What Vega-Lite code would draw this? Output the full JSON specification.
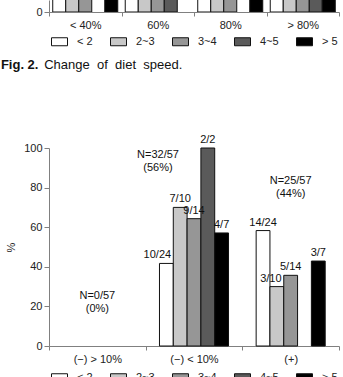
{
  "$schema": "https://vega.github.io/schema/vega-lite/v6.json",
  "padding": {"left": 0, "right": 3, "top": 0, "bottom": 0},
  "config": {
    "font": "Liberation Sans",
    "view": {"stroke": null},
    "axis": {"domainColor": "#808080", "tickColor": "#808080", "labelColor": "#222222", "labelFontSize": 11, "titleFontSize": 11, "titleFontWeight": "normal", "titleColor": "#222222", "grid": false, "labelOverlap": false},
    "legend": {"orient": "none", "direction": "horizontal", "columns": 5, "symbolType": "M-1,-0.5H1V0.5H-1Z", "symbolSize": 256, "symbolStrokeColor": "#111111", "symbolStrokeWidth": 1, "symbolOpacity": 1, "labelFontSize": 11, "labelColor": "#222222", "labelOffset": 9, "columnPadding": 15, "padding": 0}
  },
  "datasets": {
    "diet": [
      {"speed": "< 40%", "group": "< 2", "pct": 30},
      {"speed": "< 40%", "group": "2~3", "pct": 45},
      {"speed": "< 40%", "group": "3~4", "pct": 60},
      {"speed": "< 40%", "group": "> 5", "pct": 50},
      {"speed": "60%", "group": "< 2", "pct": 35},
      {"speed": "60%", "group": "2~3", "pct": 50},
      {"speed": "60%", "group": "3~4", "pct": 55},
      {"speed": "60%", "group": "4~5", "pct": 70},
      {"speed": "80%", "group": "< 2", "pct": 25},
      {"speed": "80%", "group": "2~3", "pct": 40},
      {"speed": "80%", "group": "3~4", "pct": 45},
      {"speed": "80%", "group": "> 5", "pct": 80},
      {"speed": "> 80%", "group": "< 2", "pct": 30},
      {"speed": "> 80%", "group": "2~3", "pct": 40},
      {"speed": "> 80%", "group": "3~4", "pct": 50},
      {"speed": "> 80%", "group": "4~5", "pct": 60},
      {"speed": "> 80%", "group": "> 5", "pct": 70}
    ],
    "bars": [
      {"cat": "(−) < 10%", "group": "< 2", "pct": 41.7, "label": "10/24"},
      {"cat": "(−) < 10%", "group": "2~3", "pct": 70, "label": "7/10"},
      {"cat": "(−) < 10%", "group": "3~4", "pct": 64.3, "label": "9/14"},
      {"cat": "(−) < 10%", "group": "4~5", "pct": 100, "label": "2/2"},
      {"cat": "(−) < 10%", "group": "> 5", "pct": 57.1, "label": "4/7"},
      {"cat": "(+)", "group": "< 2", "pct": 58.3, "label": "14/24"},
      {"cat": "(+)", "group": "2~3", "pct": 30, "label": "3/10"},
      {"cat": "(+)", "group": "3~4", "pct": 35.7, "label": "5/14"},
      {"cat": "(+)", "group": "> 5", "pct": 42.9, "label": "3/7"}
    ],
    "notes": [
      {"cat": "(−) > 10%", "pos": 28.3, "note": "N=0/57\n(0%)"},
      {"cat": "(−) < 10%", "pos": 99.5, "note": "N=32/57\n(56%)"},
      {"cat": "(+)", "pos": 86.4, "note": "N=25/57\n(44%)"}
    ]
  },
  "resolve": {"scale": {"color": "independent", "fill": "independent", "x": "independent", "y": "independent", "xOffset": "independent"}, "legend": {"fill": "independent"}},
  "spacing": 62,
  "vconcat": [
    {
      "width": 290,
      "height": 12,
      "title": {"text": "Fig. 2.", "subtitle": "\u200b\u00a0\u00a0\u00a0\u00a0\u00a0\u00a0\u00a0\u00a0\u00a0\u00a0\u00a0\u00a0Change\u00a0\u00a0of\u00a0\u00a0diet\u00a0\u00a0speed.", "orient": "bottom", "anchor": "start", "fontSize": 13, "fontWeight": "bold", "subtitleFontSize": 13, "subtitleFontWeight": "normal", "subtitlePadding": -13, "color": "#111111", "subtitleColor": "#111111", "offset": 11, "dx": -35},
      "data": {"name": "diet"},
      "mark": {"type": "bar", "stroke": "#111111", "strokeWidth": 1, "clip": true},
      "encoding": {
        "x": {"field": "speed", "type": "nominal", "sort": ["< 40%", "60%", "80%", "> 80%"], "scale": {"paddingInner": 0, "paddingOuter": 0}, "axis": {"title": null, "labelAngle": 0, "tickBand": "extent", "tickSize": 4, "labelPadding": 3}},
        "xOffset": {"field": "group", "type": "nominal", "scale": {"domain": ["< 2", "2~3", "3~4", "4~5", "> 5"], "paddingInner": 0, "paddingOuter": 0.288}},
        "y": {"field": "pct", "type": "quantitative", "scale": {"domain": [0, 10]}, "axis": {"title": null, "values": [0], "tickSize": 5, "labelPadding": 2}},
        "fill": {"field": "group", "type": "nominal", "scale": {"domain": ["< 2", "2~3", "3~4", "4~5", "> 5"], "range": ["#ffffff", "#c8c8c8", "#969696", "#5a5a5a", "#000000"]}, "legend": {"title": null, "legendX": 2, "legendY": 33}}
      }
    },
    {
      "width": 290,
      "height": 198,
      "layer": [
        {
          "data": {"name": "bars"},
          "mark": {"type": "bar", "stroke": "#111111", "strokeWidth": 1},
          "encoding": {
            "x": {"field": "cat", "type": "nominal", "scale": {"domain": ["(−) > 10%", "(−) < 10%", "(+)"], "paddingInner": 0, "paddingOuter": 0}, "axis": {"title": null, "labelAngle": 0, "tickBand": "extent", "tickSize": 4, "labelPadding": 3}},
            "xOffset": {"field": "group", "type": "nominal", "scale": {"domain": ["< 2", "2~3", "3~4", "4~5", "> 5"], "paddingInner": 0, "paddingOuter": 1.218}},
            "y": {"field": "pct", "type": "quantitative", "scale": {"domain": [0, 100]}, "axis": {"title": "%", "values": [0, 20, 40, 60, 80, 100], "tickCount": 12, "labelOverlap": false, "tickSize": 5, "labelPadding": 2, "titlePadding": 7}},
            "fill": {"field": "group", "type": "nominal", "scale": {"domain": ["< 2", "2~3", "3~4", "4~5", "> 5"], "range": ["#ffffff", "#c8c8c8", "#969696", "#5a5a5a", "#000000"]}, "legend": {"title": null, "legendX": 2, "legendY": 221}}
          }
        },
        {
          "data": {"name": "bars"},
          "transform": [{"filter": "datum.label != '10/24' && datum.label != '3/10'"}],
          "mark": {"type": "text", "fontSize": 11, "baseline": "alphabetic", "dy": -5, "color": "#111111"},
          "encoding": {
            "x": {"field": "cat", "type": "nominal"},
            "xOffset": {"field": "group", "type": "nominal"},
            "y": {"field": "pct", "type": "quantitative"},
            "text": {"field": "label"}
          }
        },
        {
          "data": {"name": "bars"},
          "transform": [{"filter": "datum.label == '10/24'"}],
          "mark": {"type": "text", "fontSize": 11, "baseline": "alphabetic", "dy": -5, "dx": -9, "color": "#111111"},
          "encoding": {
            "x": {"field": "cat", "type": "nominal"},
            "xOffset": {"field": "group", "type": "nominal"},
            "y": {"field": "pct", "type": "quantitative"},
            "text": {"field": "label"}
          }
        },
        {
          "data": {"name": "bars"},
          "transform": [{"filter": "datum.label == '3/10'"}],
          "mark": {"type": "text", "fontSize": 11, "baseline": "alphabetic", "dy": -5, "dx": -6, "color": "#111111"},
          "encoding": {
            "x": {"field": "cat", "type": "nominal"},
            "xOffset": {"field": "group", "type": "nominal"},
            "y": {"field": "pct", "type": "quantitative"},
            "text": {"field": "label"}
          }
        },
        {
          "data": {"name": "notes"},
          "transform": [{"filter": "datum.cat != '(−) < 10%'"}],
          "mark": {"type": "text", "fontSize": 11, "baseline": "top", "lineBreak": "\n", "lineHeight": 13, "color": "#111111"},
          "encoding": {
            "x": {"field": "cat", "type": "nominal"},
            "y": {"field": "pos", "type": "quantitative"},
            "text": {"field": "note"}
          }
        },
        {
          "data": {"name": "notes"},
          "transform": [{"filter": "datum.cat == '(−) < 10%'"}],
          "mark": {"type": "text", "fontSize": 11, "baseline": "top", "lineBreak": "\n", "lineHeight": 13, "dx": -36, "color": "#111111"},
          "encoding": {
            "x": {"field": "cat", "type": "nominal"},
            "y": {"field": "pos", "type": "quantitative"},
            "text": {"field": "note"}
          }
        }
      ]
    }
  ]
}
